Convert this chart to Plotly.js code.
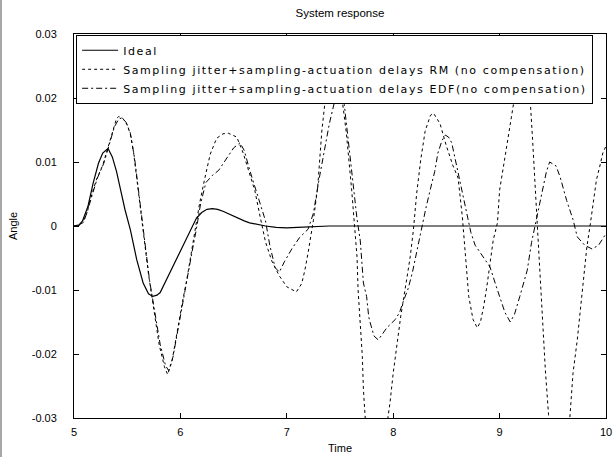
<!DOCTYPE html>
<html>
<head>
<meta charset="utf-8">
<script src="https://cdn.plot.ly/plotly-3.0.1.min.js"></script>
<style>
  html, body { margin: 0; padding: 0; background: #fff; }
  #chart { width: 613px; height: 457px; }
  .legendtext { letter-spacing: 1.6px; }
</style>
</head>
<body>
<div id="chart"></div>
<script>
// ---- data ----
const seriesNames = [
  "Ideal",
  "Sampling jitter+sampling-actuation delays RM (no compensation)",
  "Sampling jitter+sampling-actuation delays EDF(no compensation)"
];

const tIdeal = [5.0, 5.05, 5.08, 5.13, 5.18, 5.23, 5.27, 5.32, 5.36, 5.4, 5.44, 5.48, 5.53, 5.59, 5.65, 5.7, 5.74, 5.78, 5.81, 5.9, 6.0, 6.09, 6.15, 6.2, 6.25, 6.3, 6.35, 6.4, 6.45, 6.5, 6.55, 6.6, 6.65, 6.7, 6.75, 6.8, 6.9, 7.0, 7.1, 7.2, 7.4, 8.0, 9.0, 10.0];
const angleIdeal = [0, 0.0002, 0.0008, 0.003, 0.0067, 0.0098, 0.0114, 0.0121, 0.0108, 0.0085, 0.0055, 0.0025, -0.0006, -0.0053, -0.0089, -0.0106, -0.011, -0.0108, -0.0104, -0.0073, -0.0037, -0.0006, 0.0012, 0.0021, 0.0026, 0.0027, 0.0026, 0.0023, 0.0019, 0.0015, 0.0011, 0.0008, 0.0005, 0.0003, 0.0001, 0.0, -0.0002, -0.0003, -0.0002, -0.0001, 0, 0, 0, 0];

const tRM = [5.0, 5.05, 5.08, 5.12, 5.15, 5.21, 5.27, 5.31, 5.36, 5.4, 5.42, 5.46, 5.5, 5.53, 5.56, 5.6, 5.65, 5.7, 5.75, 5.8, 5.85, 5.88, 5.92, 5.97, 6.02, 6.06, 6.1, 6.14, 6.18, 6.23, 6.28, 6.34, 6.4, 6.45, 6.53, 6.59, 6.65, 6.7, 6.75, 6.8, 6.86, 6.93, 7.0, 7.09, 7.14, 7.17, 7.2, 7.25, 7.29, 7.33, 7.37, 7.43, 7.49, 7.53, 7.56, 7.59, 7.61, 7.63, 7.66, 7.67, 7.69, 7.71, 7.72, 7.73, 7.76, 7.84, 7.91, 7.95, 7.97, 8.0, 8.04, 8.07, 8.13, 8.16, 8.19, 8.22, 8.26, 8.3, 8.35, 8.38, 8.44, 8.5, 8.56, 8.61, 8.65, 8.68, 8.71, 8.75, 8.79, 8.82, 8.85, 8.88, 8.91, 8.94, 8.98, 9.0, 9.05, 9.1, 9.13, 9.2, 9.29, 9.31, 9.33, 9.35, 9.37, 9.39, 9.41, 9.43, 9.46, 9.5, 9.56, 9.62, 9.66, 9.69, 9.73, 9.76, 9.79, 9.82, 9.85, 9.88, 9.91, 9.94, 9.97, 10.0];
const angleRM = [0, 0.0002, 0.0005, 0.002, 0.004, 0.0072, 0.0095, 0.0117, 0.0148, 0.0168, 0.0171, 0.0168, 0.0158, 0.0143, 0.0115, 0.006, -0.001, -0.0075, -0.013, -0.0185, -0.022, -0.0232, -0.0212, -0.0162, -0.0118, -0.0084, -0.0045, -0.0005, 0.0035, 0.0075, 0.0112, 0.0137, 0.0144, 0.0145, 0.0139, 0.0114, 0.0083, 0.0055, 0.0014, -0.0025, -0.0055, -0.0078, -0.0095, -0.0103, -0.009, -0.0069, -0.0042, 0.0009, 0.006, 0.015, 0.021, 0.025, 0.0225, 0.0185, 0.0145, 0.0098, 0.0056, 0.0014, -0.0048, -0.01, -0.015, -0.0204, -0.0255, -0.0295, -0.036, -0.041, -0.036, -0.03, -0.0276, -0.023, -0.0178, -0.0142, -0.008, -0.0048, -0.0006, 0.005, 0.0105, 0.0148, 0.0173, 0.0176, 0.016, 0.0125, 0.0095, 0.0075, 0.0014, -0.0048, -0.011, -0.0146, -0.0159, -0.015, -0.0126, -0.0095, -0.0058, -0.0022, 0.0005, 0.0056, 0.0107, 0.016, 0.019, 0.0245, 0.019, 0.0135, 0.0075, 0.001, -0.0055, -0.0115, -0.0175, -0.0225, -0.0295, -0.038, -0.042, -0.038, -0.03, -0.023, -0.0178, -0.0126, -0.0073, -0.0033, 0.0, 0.004, 0.0072, 0.0092, 0.0114, 0.0125];

const tEDF = [5.0, 5.05, 5.09, 5.13, 5.17, 5.22, 5.28, 5.33, 5.38, 5.42, 5.45, 5.49, 5.53, 5.57, 5.61, 5.66, 5.71, 5.76, 5.81, 5.86, 5.89, 5.93, 5.98, 6.03, 6.07, 6.11, 6.15, 6.19, 6.24, 6.3, 6.36, 6.44, 6.5, 6.56, 6.6, 6.65, 6.7, 6.75, 6.8, 6.84, 6.89, 6.93, 6.98, 7.05, 7.12, 7.2, 7.25, 7.3, 7.35, 7.4, 7.45, 7.5, 7.54, 7.57, 7.6, 7.63, 7.66, 7.69, 7.71, 7.72, 7.75, 7.77, 7.79, 7.82, 7.86, 7.9, 7.94, 8.02, 8.06, 8.09, 8.14, 8.18, 8.23, 8.27, 8.31, 8.35, 8.39, 8.42, 8.46, 8.49, 8.52, 8.55, 8.58, 8.61, 8.65, 8.69, 8.73, 8.77, 8.84, 8.91, 8.96, 9.0, 9.05, 9.1, 9.14, 9.19, 9.26, 9.3, 9.35, 9.4, 9.44, 9.47, 9.53, 9.57, 9.63, 9.69, 9.73, 9.8, 9.87, 9.93, 10.0];
const angleEDF = [0, 0.0001, 0.0006, 0.0025, 0.0048, 0.0075, 0.0098, 0.0125, 0.0155, 0.0167, 0.0169, 0.0162, 0.0145, 0.0105, 0.005, -0.002, -0.0085, -0.0135, -0.0185, -0.0218, -0.0226, -0.0205, -0.0158, -0.0112, -0.0076, -0.004, -0.0005, 0.0035, 0.0068, 0.0079, 0.0087, 0.0107, 0.0122, 0.013, 0.0118, 0.0088, 0.006, 0.0036, 0.0008, -0.003, -0.0065, -0.0072, -0.0055, -0.0035, -0.0018, -0.0005, 0.002, 0.007, 0.0115, 0.016, 0.0195, 0.021, 0.019, 0.0145, 0.0098, 0.0055, 0.0011, -0.0022, -0.0064, -0.0089, -0.011, -0.0142, -0.0155, -0.0172, -0.0178, -0.0168, -0.0159, -0.0146, -0.0135, -0.012, -0.0098, -0.0073, -0.0033, 0.0, 0.003, 0.0058, 0.0085, 0.0114, 0.0134, 0.0142, 0.0139, 0.013, 0.0107, 0.0083, 0.0056, 0.002, -0.001, -0.003, -0.0048, -0.0064, -0.009, -0.011, -0.0135, -0.015, -0.0138, -0.011, -0.0069, -0.0026, 0.0014, 0.0056, 0.0085, 0.01, 0.0094, 0.0076, 0.004, 0.001, -0.0017, -0.003, -0.0036, -0.003, -0.0012];

const xTicks = [5, 6, 7, 8, 9, 10];
const yTicks = [-0.03, -0.02, -0.01, 0, 0.01, 0.02, 0.03];
const yTickText = ["-0.03", "-0.02", "-0.01", "0", "0.01", "0.02", "0.03"];

// ---- chart ----
const traces = [
  { x: tIdeal, y: angleIdeal, name: seriesNames[0], mode: "lines",
    line: { color: "#000", width: 1.2, dash: "solid" } },
  { x: tRM, y: angleRM, name: seriesNames[1], mode: "lines",
    line: { color: "#000", width: 1, dash: "3px,3px" } },
  { x: tEDF, y: angleEDF, name: seriesNames[2], mode: "lines",
    line: { color: "#000", width: 1, dash: "6px,3px,2px,3px" } }
];

const tickFont = { family: "Liberation Sans, Arial, sans-serif", size: 11, color: "#000" };

const layout = {
  width: 613, height: 457,
  margin: { l: 74, r: 7, t: 34, b: 39, pad: 0 },
  paper_bgcolor: "#fff", plot_bgcolor: "#fff",
  showlegend: true,
  title: { text: "System response", x: 0.5, xref: "paper", xanchor: "center",
           y: 1 - 13 / 457, yref: "container", yanchor: "middle",
           font: { family: "Liberation Sans, Arial, sans-serif", size: 11.5, color: "#000" } },
  xaxis: {
    range: [5, 10], tickvals: xTicks, ticktext: xTicks.map(String),
    ticks: "inside", ticklen: 5, tickcolor: "#000", tickwidth: 1,
    showline: true, linecolor: "#000", linewidth: 1, mirror: "ticks",
    showgrid: false, zeroline: false, tickfont: tickFont,
    ticklabelstandoff: 4,
    title: { text: "Time", font: tickFont, standoff: 7 }
  },
  yaxis: {
    range: [-0.03, 0.03], tickvals: yTicks, ticktext: yTickText,
    ticks: "inside", ticklen: 5, tickcolor: "#000", tickwidth: 1,
    showline: true, linecolor: "#000", linewidth: 1, mirror: "ticks",
    showgrid: false, zeroline: false, tickfont: tickFont,
    ticklabelstandoff: 14,
    title: { text: "Angle", font: tickFont, standoff: 11 }
  },
  legend: {
    x: 0.004, y: 0.998, xanchor: "left", yanchor: "top",
    bgcolor: "#fff", bordercolor: "#000", borderwidth: 1,
    itemwidth: 36, tracegroupgap: 0,
    font: { family: "DejaVu Sans, sans-serif", size: 11, color: "#000" }
  },
  shapes: [
    { type: "rect", xref: "paper", yref: "paper",
      x0: -0.1391, x1: -0.1353, y0: -0.1016, y1: 1.089,
      fillcolor: "#a8a8a8", line: { width: 0 } }
  ]
};

Plotly.newPlot("chart", traces, layout, { staticPlot: true, displayModeBar: false });
</script>
</body>
</html>
